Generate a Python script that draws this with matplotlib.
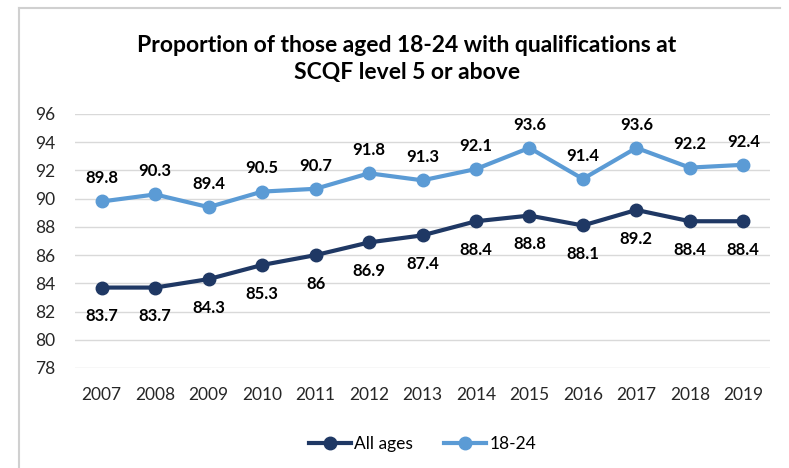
import matplotlib
matplotlib.use("Agg")
import matplotlib.pyplot as plt
from matplotlib.lines import Line2D

years = ["2007", "2008", "2009", "2010", "2011", "2012", "2013",
         "2014", "2015", "2016", "2017", "2018", "2019"]
all_ages = [83.7, 83.7, 84.3, 85.3, 86, 86.9, 87.4, 88.4, 88.8, 88.1, 89.2, 88.4, 88.4]
all_ages_labels = ["83.7", "83.7", "84.3", "85.3", "86", "86.9", "87.4",
                   "88.4", "88.8", "88.1", "89.2", "88.4", "88.4"]
age_18_24 = [89.8, 90.3, 89.4, 90.5, 90.7, 91.8, 91.3, 92.1, 93.6, 91.4, 93.6, 92.2, 92.4]
yticks = [78, 80, 82, 84, 86, 88, 90, 92, 94, 96]

title = "Proportion of those aged 18-24 with qualifications at\nSCQF level 5 or above"

plt.rcParams['font.family'] = ['Lato', 'DejaVu Sans']

dark = "#1F3864"
light = "#5B9BD5"

fig = plt.figure(figsize=(7.89, 4.68), dpi=100)
ax = fig.add_axes([75/789, 1-368/468, (770-75)/789, (368-114)/468])

x = list(range(len(years)))
ax.plot(x, all_ages, color=dark, lw=3, marker="o", ms=9, label="All ages", zorder=3)
ax.plot(x, age_18_24, color=light, lw=3, marker="o", ms=9, label="18-24", zorder=3)

for xi, v, s in zip(x, all_ages, all_ages_labels):
    ax.annotate(s, (xi, v), xytext=(0, -15), textcoords="offset points",
                ha="center", va="top", fontsize=12, fontweight="bold", color="#000000")
for xi, v in zip(x, age_18_24):
    ax.annotate(f"{v:.1f}", (xi, v), xytext=(0, 11), textcoords="offset points",
                ha="center", va="bottom", fontsize=12, fontweight="bold", color="#000000")

ax.set_xlim(-0.5, len(years) - 0.5)
ax.set_ylim(78, 96)
ax.set_yticks(yticks)
ax.set_xticks(x)
ax.set_xticklabels(years)
ax.tick_params(axis="both", length=0, labelsize=12.5, colors="#262626")
ax.tick_params(axis="y", pad=14)
ax.tick_params(axis="x", pad=14)
ax.grid(axis="y", color="#D9D9D9", lw=1)
ax.set_axisbelow(True)
for sp in ax.spines.values():
    sp.set_visible(False)

fig.text(407 / 789, 1 - 59/468, title, ha="center", va="center",
         fontsize=16.5, fontweight="bold", linespacing=1.35)

ax.legend(loc="center", bbox_to_anchor=(0.5, -0.3), ncol=2, frameon=False,
          fontsize=12.5, handlelength=2.4, columnspacing=1.8, handletextpad=0.2)

fig.add_artist(Line2D([19/789, 19/789], [0, 1 - 8/468], color="#D0D0D0", lw=1.5,
                      transform=fig.transFigure))
fig.add_artist(Line2D([19/789, 780/789], [1 - 8/468, 1 - 8/468], color="#D0D0D0", lw=1.5,
                      transform=fig.transFigure))

fig.savefig("out.png", dpi=100)
